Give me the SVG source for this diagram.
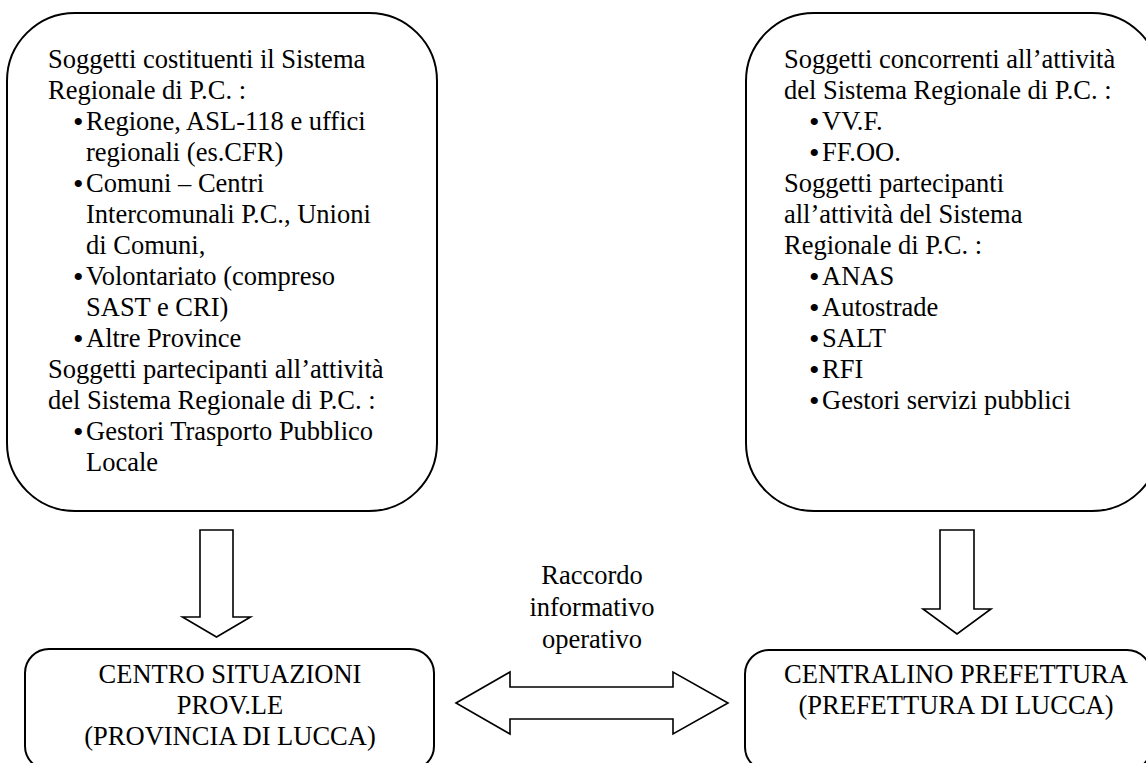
<svg xmlns="http://www.w3.org/2000/svg" width="1146" height="763" viewBox="0 0 1146 763" font-family="'Liberation Serif', 'Times New Roman', serif">
<style>
.box{fill:#fff;stroke:#000;stroke-width:2}
.arr{fill:#fff;stroke:#000;stroke-width:1.6;stroke-linejoin:miter}
text{font-family:"Liberation Serif","Times New Roman",serif;font-size:26.5px;fill:#000}
text.b{font-size:30px}
.c{text-anchor:middle}
</style>
<rect width="1146" height="763" fill="#fff"/>
<g id="soggetti-sistema-regionale">
<rect class="box" x="7" y="13" width="430" height="498" rx="68" ry="68"/>
<text x="48" y="67.5">Soggetti costituenti il Sistema</text>
<text x="48" y="98.5">Regionale di P.C. :</text>
<text class="b" x="73" y="132">•</text><text x="86" y="129.5">Regione, ASL-118 e uffici</text>
<text x="86" y="160.5">regionali (es.CFR)</text>
<text class="b" x="73" y="194">•</text><text x="86" y="191.5">Comuni – Centri</text>
<text x="86" y="222.5">Intercomunali P.C., Unioni</text>
<text x="86" y="253.5">di Comuni,</text>
<text class="b" x="73" y="287">•</text><text x="86" y="284.5">Volontariato (compreso</text>
<text x="86" y="315.5">SAST e CRI)</text>
<text class="b" x="73" y="349">•</text><text x="86" y="346.5">Altre Province</text>
<text x="48" y="377.5">Soggetti partecipanti all’attività</text>
<text x="48" y="408.5">del Sistema Regionale di P.C. :</text>
<text class="b" x="73" y="442">•</text><text x="86" y="439.5">Gestori Trasporto Pubblico</text>
<text x="86" y="470.5">Locale</text>
</g>
<g id="soggetti-concorrenti">
<rect class="box" x="746" y="13" width="414" height="498" rx="68" ry="68"/>
<text x="784" y="67.5">Soggetti concorrenti all’attività</text>
<text x="784" y="98.5">del Sistema Regionale di P.C. :</text>
<text class="b" x="809" y="132">•</text><text x="822" y="129.5">VV.F.</text>
<text class="b" x="809" y="163">•</text><text x="822" y="160.5">FF.OO.</text>
<text x="784" y="191.5">Soggetti partecipanti</text>
<text x="784" y="222.5">all’attività del Sistema</text>
<text x="784" y="253.5">Regionale di P.C. :</text>
<text class="b" x="809" y="287">•</text><text x="822" y="284.5">ANAS</text>
<text class="b" x="809" y="318">•</text><text x="822" y="315.5">Autostrade</text>
<text class="b" x="809" y="349">•</text><text x="822" y="346.5">SALT</text>
<text class="b" x="809" y="380">•</text><text x="822" y="377.5">RFI</text>
<text class="b" x="809" y="411">•</text><text x="822" y="408.5">Gestori servizi pubblici</text>
</g>
<g id="centro-situazioni">
<rect class="box" x="25" y="649" width="409" height="121" rx="24" ry="24"/>
<text class="c" x="230" y="683">CENTRO SITUAZIONI</text>
<text class="c" x="230" y="714">PROV.LE</text>
<text class="c" x="230" y="745">(PROVINCIA DI LUCCA)</text>
</g>
<g id="centralino-prefettura">
<rect class="box" x="745" y="650" width="406" height="121" rx="24" ry="24"/>
<text class="c" x="956" y="683">CENTRALINO PREFETTURA</text>
<text class="c" x="956" y="714">(PREFETTURA DI LUCCA)</text>
</g>
<g id="raccordo-label">
<text class="c" x="592" y="584">Raccordo</text>
<text class="c" x="592" y="616">informativo</text>
<text class="c" x="592" y="648">operativo</text>
</g>
<g id="connectors">
<polygon class="arr" points="200,530 233,530 233,617 250.5,617 216.5,637 182.5,617 200,617"/>
<polygon class="arr" points="940,530 974,530 974,609 991,609 957,634 923,609 940,609"/>
<polygon class="arr" points="456,703 510,672 510,687 673,687 673,672 728,703 673,734 673,719 510,719 510,734"/>
</g>
</svg>
